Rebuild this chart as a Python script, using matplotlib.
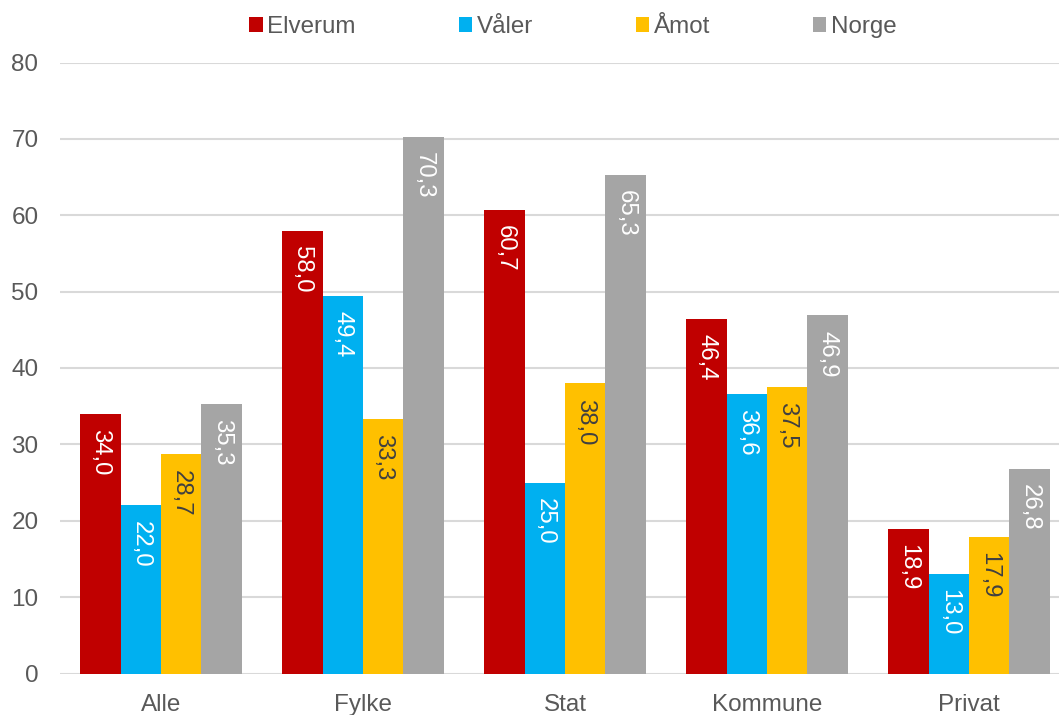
import matplotlib
matplotlib.use("Agg")
import matplotlib.pyplot as plt
import numpy as np

plt.rcParams['font.family'] = ['Liberation Sans', 'DejaVu Sans']

categories = ["Alle", "Fylke", "Stat", "Kommune", "Privat"]
series_names = ["Elverum", "Våler", "Åmot", "Norge"]
elverum = [34.0, 58.0, 60.7, 46.4, 18.9]
valer = [22.0, 49.4, 25.0, 36.6, 13.0]
amot = [28.7, 33.3, 38.0, 37.5, 17.9]
norge = [35.3, 70.3, 65.3, 46.9, 26.8]
yticks = [0, 10, 20, 30, 40, 50, 60, 70, 80]

series = [elverum, valer, amot, norge]
colors = ["#C00000", "#00B0F0", "#FFC000", "#A5A5A5"]
label_colors = ["white", "white", "#404040", "white"]

W, H = 1059, 715
fig = plt.figure(figsize=(W / 100, H / 100), dpi=100)
ax = fig.add_axes([60 / W, (H - 673.5) / H, 1010 / W, 611 / H])

x = np.arange(len(categories))
bw = 0.2
for i, (vals, name, col, lc) in enumerate(zip(series, series_names, colors, label_colors)):
    pos = x + (i - 1.5) * bw
    ax.bar(pos, vals, width=bw, color=col, label=name, zorder=3)
    for p, v in zip(pos, vals):
        ax.text(p, v - 2.0, f"{v:.1f}".replace(".", ","), rotation=270,
                ha="center", va="top", color=lc, fontsize=17.2, zorder=4)

ax.set_xlim(-0.5, len(categories) - 0.5)
ax.set_ylim(0, 80)
ax.set_yticks(yticks)
ax.set_xticks(x)
ax.set_xticklabels(categories)
ax.grid(axis="y", color="#D9D9D9", linewidth=1.5, zorder=0)
ax.tick_params(axis="both", length=0, labelsize=17.5, colors="#595959")
ax.tick_params(axis="y", pad=15.5)
ax.tick_params(axis="x", pad=14.5)
for s in ax.spines.values():
    s.set_visible(False)

fig.legend(loc="upper center", bbox_to_anchor=(573 / W, 1.008), ncol=4, frameon=False,
           fontsize=17.4, handlelength=0.55, handleheight=0.55, handletextpad=0.2,
           columnspacing=4.25, labelcolor="#595959")

fig.savefig("out.png", dpi=100)
